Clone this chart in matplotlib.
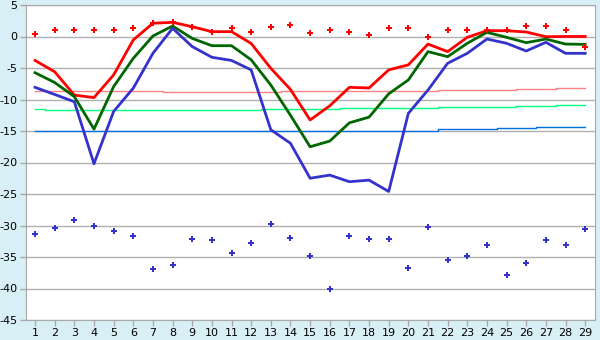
import matplotlib
import matplotlib.pyplot as plt
import numpy as np

matplotlib.use("Agg")
plt.rcParams["axes.unicode_minus"] = False
plt.rcParams["font.family"] = "DejaVu Sans"

# Datos
days = list(range(1, 30))

t_max_rec = [0.35, 1.0, 1.0, 1.1, 1.0, 1.3, 2.1, 2.25, 1.55, 0.77,
             1.3, 0.77, 1.45, 1.78, 0.5, 0.98, 0.77, 0.19, 1.3, 1.3,
             -0.13, 0.98, 0.98, 0.98, 1.1, 1.6, 1.6, 1.1, -1.7]
t_min_rec = [-31.4, -30.45, -29.2, -30.1, -30.9, -31.7, -36.95, -36.2, -32.2, -32.35,
             -34.4, -32.7, -29.8, -32.0, -34.9, -40.1, -31.7, -32.2, -32.2, -36.8,
             -30.3, -35.5, -34.9, -33.1, -37.9, -36.0, -32.35, -33.1, -30.6]

t_max = [-3.8, -5.6, -9.3, -9.7, -6.1, -0.55, 2.1, 2.25, 1.55, 0.77,
         0.77, -1.1, -5.05, -8.4, -13.25, -11.0, -8.07, -8.17, -5.3, -4.5,
         -1.2, -2.4, -0.13, 0.92, 0.92, 0.71, -0.03, 0.0, 0.0]
t_mean = [-5.75, -7.3, -9.55, -14.7, -7.95, -3.47, 0.08, 1.67, -0.3, -1.46,
          -1.46, -3.7, -7.7, -12.5, -17.5, -16.6, -13.7, -12.8, -9.1, -6.9,
          -2.4, -3.2, -1.08, 0.66, -0.13, -0.98, -0.4, -1.2, -1.25]
t_min = [-8.07, -9.2, -10.35, -20.2, -11.9, -8.2, -2.67, 1.3, -1.6, -3.3,
         -3.8, -5.3, -14.8, -16.95, -22.5, -22.0, -23.05, -22.8, -24.6, -12.2,
         -8.5, -4.25, -2.67, -0.4, -1.08, -2.3, -0.92, -2.67, -2.67]

# Normales
norm_max = [-8.65] * 7 + [-8.85] * 6 + [-8.7] * 8 + [-8.5] * 4 + [-8.4] * 2 + [-8.2] * 2
norm_mean = [-11.5] + [-11.7] * 11 + [-11.56] * 4 + [-11.4] * 5 + [-11.25] * 4 + [-11.1] * 2 + [-10.9] * 2
norm_min = [-14.95] * 2 + [-15.05] * 17 + [-14.95] * 2 + [-14.74] * 3 + [-14.6] * 2 + [-14.4] * 3

yticks = list(range(-45, 6, 5))

# Figura
fig = plt.figure(figsize=(6, 3.4), dpi=100, facecolor="#d9eff6")
ax = fig.add_axes([26 / 600, 20 / 340, 569 / 600, 315 / 340])
ax.set_facecolor("white")

ax.plot(days, norm_max, color="#ff8080", lw=1, drawstyle="steps-mid")
ax.plot(days, norm_mean, color="#00ff80", lw=1, drawstyle="steps-mid")
ax.plot(days, norm_min, color="#0070e0", lw=1, drawstyle="steps-mid")

ax.plot(days, t_max, color="#ff0000", lw=2)
ax.plot(days, t_mean, color="#006600", lw=2)
ax.plot(days, t_min, color="#3333cc", lw=2)

# récords
ax.plot(days, t_max_rec, ls="none", marker="P", ms=4.2, color="#ff0000", mew=0)
ax.plot(days, t_min_rec, ls="none", marker="P", ms=4.2, color="#3333cc", mew=0)

ax.set_xlim(0.54, 29.5)
ax.set_ylim(-45, 5)
ax.set_xticks(days)
ax.set_yticks(yticks)
ax.grid(axis="y", color="#b0b0b0", lw=1)
ax.set_axisbelow(True)

for s in ax.spines.values():
    s.set_color("#a8a8a8")
ax.tick_params(colors="#a8a8a8", labelcolor="black", labelsize=8, length=4, width=1, pad=2)

fig.savefig("out.png", dpi=100, facecolor=fig.get_facecolor())
